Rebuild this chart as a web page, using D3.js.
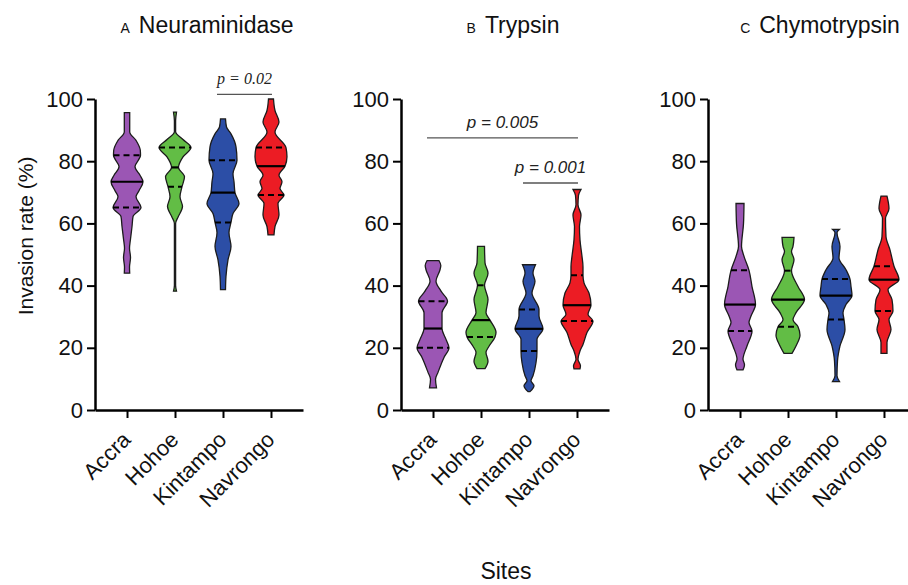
<!DOCTYPE html>
<html>
<head>
<meta charset="utf-8">
<script src="https://cdn.jsdelivr.net/npm/d3@7"></script>
<style>
  body { margin: 0; background: #fff; }
  svg { font-family: Arial, "Liberation Sans", Helvetica, sans-serif; }
</style>
</head>
<body>
<div id="graph"></div>
<script>
// Données
const sites = ["Accra", "Hohoe", "Kintampo", "Navrongo"];
const siteColors = ["#9b56b4", "#62bd45", "#2c4ea6", "#ec1c24"];
const yTicks = [0, 20, 40, 60, 80, 100];
const panelLetters = ["A", "B", "C"];
const panelTitles = ["Neuraminidase", "Trypsin", "Chymotrypsin"];

// contour des violons : [taux d'invasion %, densité relative]
const neuraminidaseProfiles = [
  [[95.6, 2.7], [89.4, 2.7], [86.7, 9], [83.5, 13.3], [81.9, 13.5], [78.2, 8], [75.5, 13], [73.4, 16], [70.5, 12], [68.6, 9], [65.1, 14], [62.2, 6], [59, 5], [55, 3.5], [52, 2.5], [49, 3.5], [46, 2.5], [44, 2.7]],
  [[95.8, 1.5], [93, 0.6], [89.5, 0.6], [87, 8], [84.4, 16], [81.4, 8], [78, 3.5], [75, 9.5], [71.8, 7], [68.6, 5], [65.4, 7.5], [62, 3], [60, 0.6], [40, 0.6], [38.2, 1.5]],
  [[93.6, 2.5], [91, 3.5], [88.8, 8], [84.6, 13], [80.3, 14], [76, 10], [73.4, 11], [69.9, 12], [66.4, 16], [63.2, 10], [60.3, 8], [57, 6], [52.6, 8], [48.3, 5], [43, 3], [38.7, 2.5]],
  [[100, 2.5], [96.3, 4], [92.6, 8], [89.4, 4], [84.4, 15], [81.4, 16], [78.4, 14], [75.5, 8], [73.4, 11], [71.2, 9], [69.1, 13], [66.4, 7], [62.7, 8], [59, 4], [56.3, 3]]
];
// [Q1, médiane, Q3]
const neuraminidaseQuartiles = [[65.1, 73.4, 81.9], [71.8, 78, 84.4], [60.3, 69.9, 80.3], [69.1, 78.4, 84.4]];

const trypsinProfiles = [
  [[48, 6], [46.5, 7.8], [45.1, 7], [41.4, 3], [38.2, 8], [35, 14.5], [31.3, 9], [26.2, 9], [22.7, 13], [20, 16], [16.9, 11], [12.1, 5], [9.9, 2.5], [7.1, 3.5]],
  [[52.6, 3.5], [47.3, 4], [44, 7], [40.1, 3.5], [35.5, 7], [31.3, 5], [28.9, 9], [24.9, 15], [23.5, 14], [20.5, 8], [18.5, 5], [15.7, 7], [13.3, 4]],
  [[46.7, 6.5], [44, 4], [41.4, 6], [37.6, 3], [32.3, 10], [30.2, 10], [26.1, 14], [22.7, 8], [19, 8], [15.2, 7], [11, 4], [9.4, 2], [7.8, 5], [5.9, 1]],
  [[70.9, 4], [69, 1.5], [66, 1], [62.7, 4], [59, 2.5], [54.7, 3], [49.4, 5], [46.1, 6], [43.3, 6], [40.9, 7], [37.6, 12], [33.7, 14], [30.8, 11], [28.6, 16], [24.9, 10], [21.1, 6], [19, 3], [16.3, 1], [14.2, 3.5], [13.2, 3]]
];
const trypsinQuartiles = [[20, 26.2, 35], [23.5, 28.9, 40.1], [19, 26.1, 32.3], [28.6, 33.7, 43.3]];

const chymotrypsinProfiles = [
  [[66.4, 4], [60, 3.5], [52.6, 1.5], [49.4, 4], [44.9, 9], [39.7, 12], [33.9, 15.5], [30.2, 11], [28.1, 9], [25.4, 12], [20.6, 7], [16.3, 3], [14.5, 4.5], [12.9, 3]],
  [[55.5, 6], [52.6, 5], [51, 3.5], [48.3, 6], [44.8, 3.5], [39.7, 10], [35.5, 16.5], [31.3, 8], [29, 5], [26.8, 10], [24, 12], [20.6, 8], [18.2, 4]],
  [[58.1, 3.5], [57, 1], [52.6, 4], [48.9, 3], [45.1, 10], [42.1, 14], [39.7, 15], [36.8, 16], [33.9, 10], [31.3, 7], [29.1, 8], [25.9, 9], [20.6, 4], [15.8, 1.5], [11, 1], [9.1, 3.5]],
  [[68.8, 3], [64.8, 5], [61.6, 1.5], [55.8, 2], [51.5, 6], [46.2, 10], [41.9, 15], [38.7, 4], [35.5, 8], [31.8, 9], [29.1, 5], [25.9, 7], [21.7, 3], [18.2, 3]]
];
const chymotrypsinQuartiles = [[25.4, 33.9, 44.9], [26.8, 35.5, 44.8], [29.1, 36.8, 42.1], [31.8, 41.9, 46.2]];

// comparaisons significatives
const comparisons = [
  { panel: 0, from: "Kintampo", to: "Navrongo", level: 101.5, label: "p = 0.02", serif: true },
  { panel: 1, from: "Accra", to: "Navrongo", level: 87.5, label: "p = 0.005", serif: false },
  { panel: 1, from: "Kintampo", to: "Navrongo", level: 73, label: "p = 0.001", serif: false }
];

const panelProfiles = [neuraminidaseProfiles, trypsinProfiles, chymotrypsinProfiles];
const panelQuartiles = [neuraminidaseQuartiles, trypsinQuartiles, chymotrypsinQuartiles];

// Mise en page
const W = 908, H = 585;
const panelX = [95, 401, 708];
const axisW = 208;
const yTop = 99, yBottom = 410;

const svg = d3.select("#graph").append("svg")
  .attr("width", W).attr("height", H);

svg.append("rect").attr("width", W).attr("height", H).attr("fill", "#fff");

const yScale = d3.scaleLinear().domain([0, 100]).range([yBottom, yTop]);
const wScale = d3.scaleLinear().domain([0, 16.5]).range([0, 16.5]);

// densité au niveau d'une valeur (pour la longueur des traits de quartiles)
function densityAt(profile, v) {
  for (let i = 0; i < profile.length - 1; i++) {
    const a = profile[i], b = profile[i + 1];
    if (v <= a[0] && v >= b[0]) {
      const t = (a[0] - v) / (a[0] - b[0]);
      return a[1] + t * (b[1] - a[1]);
    }
  }
  return 0;
}

panelX.forEach((px, p) => {
  const g = svg.append("g");
  const xScale = d3.scalePoint().domain(sites).range([px, px + axisW]).padding(0.667);

  // Titre
  const title = g.append("text")
    .attr("x", px + 112)
    .attr("y", 33)
    .attr("text-anchor", "middle")
    .attr("fill", "#111");
  title.append("tspan").style("font-size", "14px").text(panelLetters[p]);
  title.append("tspan").attr("dx", 9).style("font-size", "23px").text(panelTitles[p]);

  // Violons
  panelProfiles[p].forEach((profile, i) => {
    const cx = xScale(sites[i]);
    const area = d3.area()
      .y(d => yScale(d[0]))
      .x0(d => cx - wScale(d[1]))
      .x1(d => cx + wScale(d[1]))
      .curve(d3.curveMonotoneY);

    g.append("path")
      .attr("d", area(profile))
      .attr("fill", siteColors[i])
      .attr("stroke", "#1c1c1c")
      .attr("stroke-width", 1.3);

    const [q1, med, q3] = panelQuartiles[p][i];
    [q1, q3].forEach(q => {
      const hw = wScale(densityAt(profile, q));
      g.append("line")
        .attr("x1", cx - hw).attr("x2", cx + hw)
        .attr("y1", yScale(q)).attr("y2", yScale(q))
        .attr("stroke", "#000")
        .attr("stroke-width", 2)
        .attr("stroke-dasharray", "6,4");
    });
    const hm = wScale(densityAt(profile, med));
    g.append("line")
      .attr("x1", cx - hm).attr("x2", cx + hm)
      .attr("y1", yScale(med)).attr("y2", yScale(med))
      .attr("stroke", "#000")
      .attr("stroke-width", 2.2);
  });

  // Axes
  const yAxis = g.append("g")
    .attr("transform", `translate(${px},0)`)
    .call(d3.axisLeft(yScale).tickValues(yTicks).tickSize(8).tickSizeOuter(0).tickPadding(4));
  yAxis.select(".domain").attr("stroke", "#000").attr("stroke-width", 2.5);
  yAxis.selectAll(".tick line").attr("stroke", "#000").attr("stroke-width", 2);
  yAxis.selectAll(".tick text")
    .attr("fill", "#111")
    .style("font-size", "22px")
    .style("font-family", "Arial, 'Liberation Sans', sans-serif");

  const xAxis = g.append("g")
    .attr("transform", `translate(0,${yBottom})`)
    .call(d3.axisBottom(xScale).tickSize(8).tickSizeOuter(0).tickFormat(""));
  xAxis.select(".domain").attr("stroke", "#000").attr("stroke-width", 2.5);
  xAxis.selectAll(".tick line").attr("stroke", "#000").attr("stroke-width", 2);

  // Étiquettes des sites
  sites.forEach(s => {
    g.append("text")
      .attr("transform", `translate(${xScale(s) + 5},${yBottom + 31}) rotate(-45)`)
      .attr("text-anchor", "end")
      .attr("fill", "#111")
      .style("font-size", "22px")
      .text(s);
  });

  // Comparaisons
  comparisons.filter(c => c.panel === p).forEach(c => {
    const x1 = xScale(c.from) - 6, x2 = xScale(c.to) + 1;
    const yl = yScale(c.level);
    g.append("line")
      .attr("x1", x1).attr("x2", x2)
      .attr("y1", yl).attr("y2", yl)
      .attr("stroke", "#555")
      .attr("stroke-width", 1.4);
    g.append("text")
      .attr("x", (x1 + x2) / 2)
      .attr("y", yl - 10)
      .attr("text-anchor", "middle")
      .attr("fill", "#222")
      .style("font-style", "italic")
      .style("font-size", c.serif ? "16px" : "17px")
      .style("font-family", c.serif ? "'Liberation Serif', 'Times New Roman', serif" : "Arial, 'Liberation Sans', sans-serif")
      .text(c.label);
  });
});

// Labels des axes
svg.append("text")
  .attr("transform", "translate(33,236) rotate(-90)")
  .attr("text-anchor", "middle")
  .attr("fill", "#111")
  .style("font-size", "21px")
  .text("Invasion rate (%)");

svg.append("text")
  .attr("x", 506)
  .attr("y", 579)
  .attr("text-anchor", "middle")
  .attr("fill", "#111")
  .style("font-size", "23px")
  .text("Sites");
</script>
</body>
</html>
